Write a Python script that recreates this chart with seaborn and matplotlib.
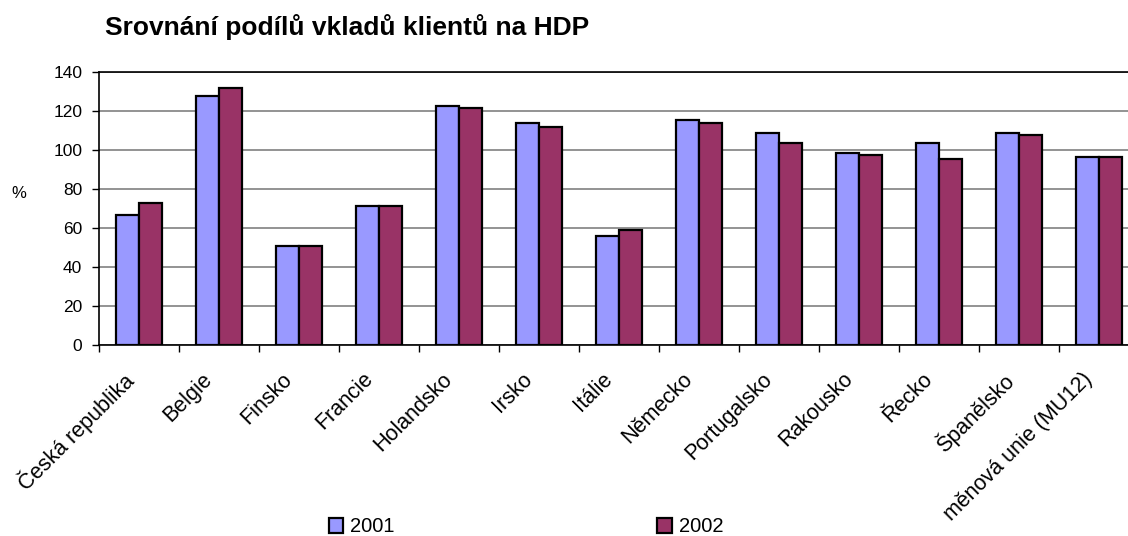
import numpy as np
import pandas as pd
import matplotlib
matplotlib.use("Agg")
import matplotlib.pyplot as plt
import matplotlib.transforms as mtransforms
import seaborn as sns

# Data
zeme = ['Česká republika', 'Belgie', 'Finsko', 'Francie', 'Holandsko', 'Irsko',
        'Itálie', 'Německo', 'Portugalsko', 'Rakousko', 'Řecko', 'Španělsko',
        'měnová unie (MU12)']
podil_2001 = [66.5, 127.5, 50.6, 71.5, 122.4, 114.1, 56.0, 115.3, 108.9, 98.5, 103.7, 108.9, 96.4]
podil_2002 = [72.6, 131.9, 50.6, 71.5, 121.3, 112.0, 59.1, 114.1, 103.7, 97.5, 95.6, 107.8, 96.4]
roky = ['2001', '2002']
barvy = ['#9999FF', '#993366']

df = pd.DataFrame({
    'zeme': zeme * 2,
    'rok': [roky[0]] * len(zeme) + [roky[1]] * len(zeme),
    'podil': podil_2001 + podil_2002,
})

sns.set_style('white')
plt.rcParams['font.family'] = ['Liberation Sans', 'DejaVu Sans']
plt.rcParams['text.color'] = 'black'
plt.rcParams['xtick.color'] = 'black'
plt.rcParams['ytick.color'] = 'black'

fig = plt.figure(figsize=(11.28, 5.36), dpi=100)
ax = fig.add_axes([99 / 1128, 1 - 345 / 536, 1040 / 1128, 273 / 536])

sns.barplot(data=df, x='zeme', y='podil', hue='rok', palette=barvy,
            width=0.575, gap=0, edgecolor='black', linewidth=1.6,
            saturation=1, ax=ax, zorder=3)

ax.set_xlim(-0.5, len(zeme) - 0.5)
ax.set_ylim(0, 140)
ax.set_yticks(np.arange(0, 141, 20))
ax.yaxis.grid(True, color='#808080', linewidth=1.2, zorder=0)
ax.xaxis.grid(False)
for s in ['left', 'bottom', 'top']:
    ax.spines[s].set_visible(True)
    ax.spines[s].set_color('black')
    ax.spines[s].set_linewidth(1.2)
ax.spines['right'].set_visible(False)

ax.set_xlabel('')
ax.set_ylabel('')
ax.tick_params(axis='y', left=True, length=5, width=1, pad=7, labelsize=12.5)
ax.set_xticks(np.arange(-0.5, len(zeme), 1), minor=True)
ax.tick_params(axis='x', which='minor', bottom=True, length=5, width=1)
ax.tick_params(axis='x', which='major', bottom=False, length=0, pad=4)
ax.set_xticks(range(len(zeme)))
ax.set_xticklabels(zeme, rotation=45, ha='right', va='top',
                   rotation_mode='anchor', fontsize=15.5)
# posun popisků doleva a dolů jako v originále
posun = mtransforms.ScaledTranslation(-17 / 100, -18 / 100, fig.dpi_scale_trans)
for lbl in ax.get_xticklabels():
    lbl.set_transform(lbl.get_transform() + posun)

fig.text(105 / 1128, 1 - 27 / 536, 'Srovnání podílů vkladů klientů na HDP',
         fontsize=19, fontweight='bold', ha='left', va='center')
fig.text(19 / 1128, 1 - 193 / 536, '%', fontsize=12, ha='center', va='center')

handles, labels = ax.get_legend_handles_labels()
ax.legend(handles, labels, loc='center', bbox_to_anchor=(526 / 1128, 1 - 527 / 536),
          bbox_transform=fig.transFigure, ncol=2, frameon=False, fontsize=14.5,
          handlelength=0.7, handleheight=0.7, handletextpad=0.35, columnspacing=13.05)

fig.savefig('out.png', dpi=100)
